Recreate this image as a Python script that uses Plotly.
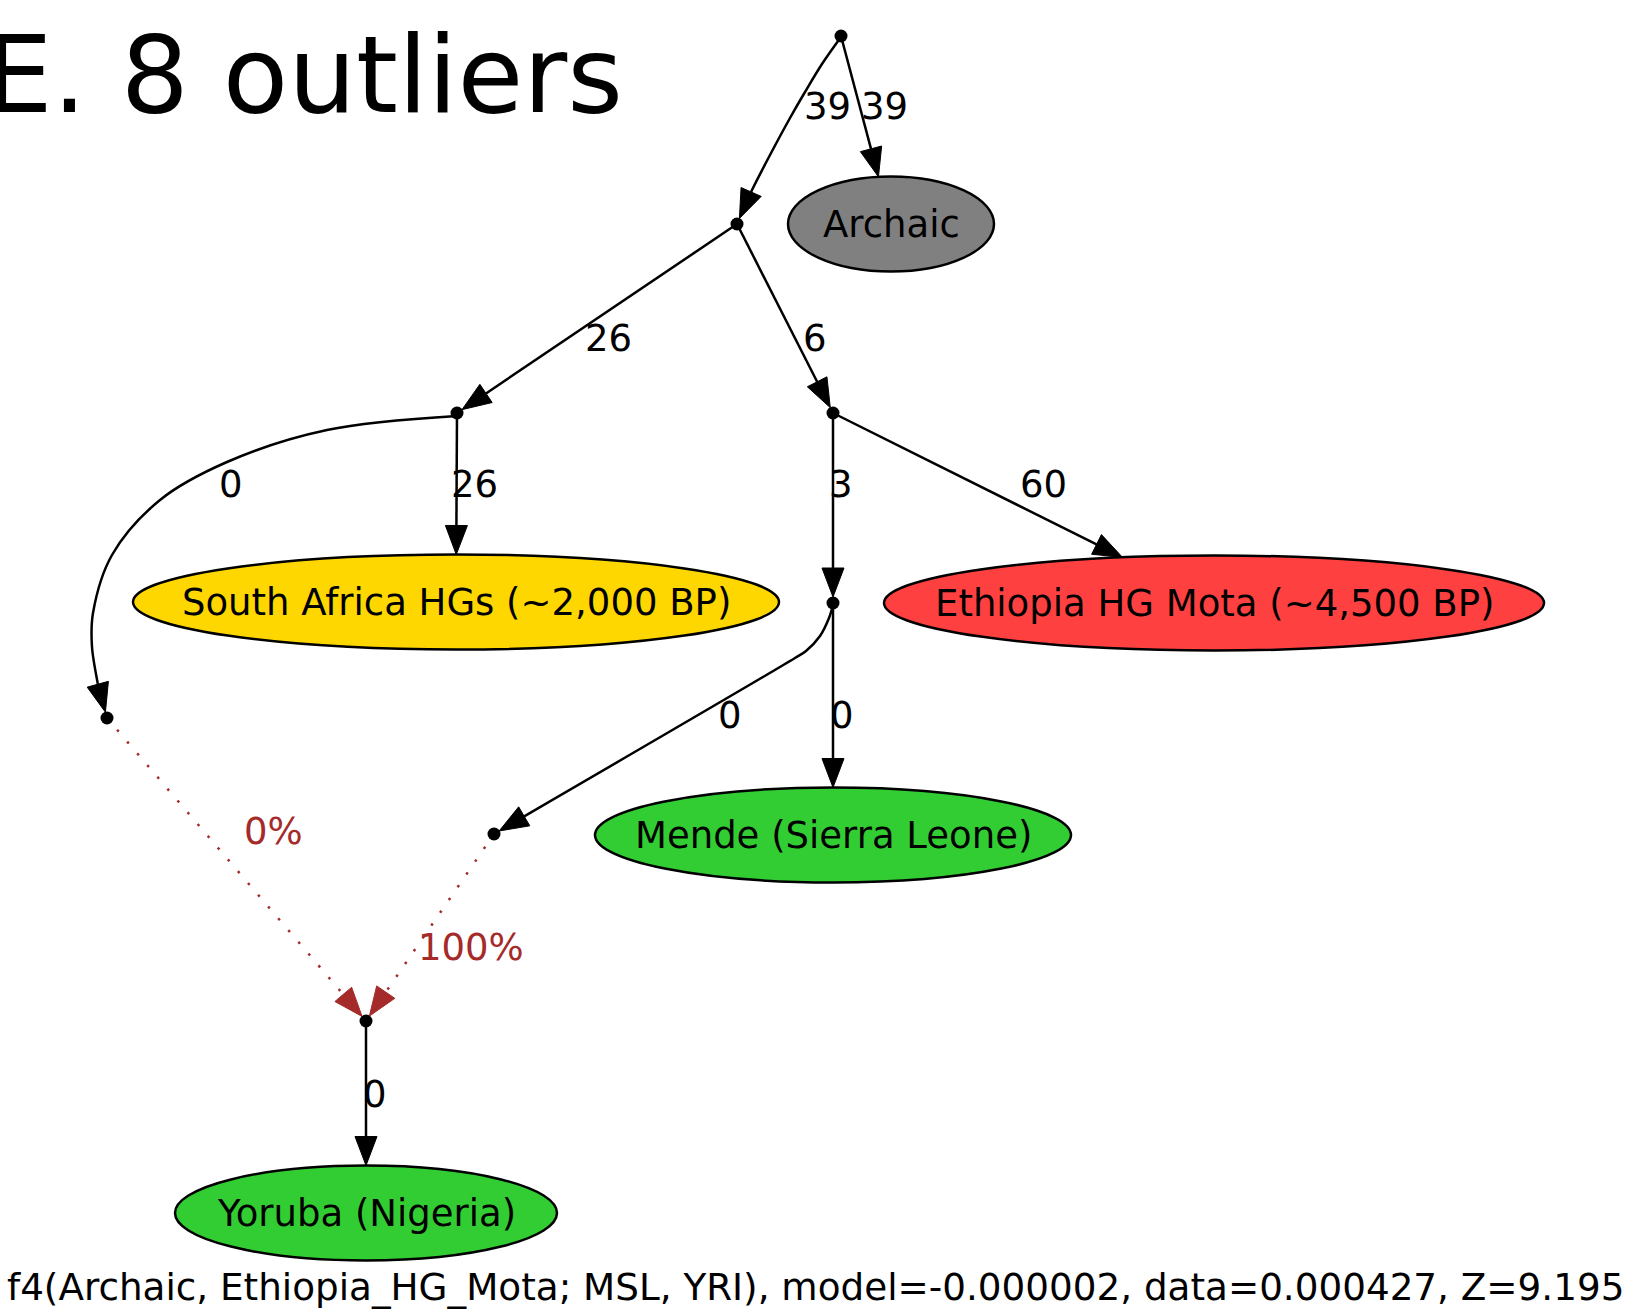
import numpy as np
import plotly.graph_objects as go

# ---------------- data ----------------
title_text = "E. 8 outliers"
footer_text = "f4(Archaic, Ethiopia_HG_Mota; MSL, YRI), model=-0.000002, data=0.000427, Z=9.195"

populations = ["Archaic", "South Africa HGs (~2,000 BP)", "Ethiopia HG Mota (~4,500 BP)",
               "Mende (Sierra Leone)", "Yoruba (Nigeria)"]
pop_colors = ["#808080", "#FFD700", "#FF4040", "#32CD32", "#32CD32"]

inner_nodes = ["root", "n1", "n2", "n3", "n4", "n5", "n6", "n7"]

# drift edges: (source, target, drift label)
drift_src = ["root", "root", "n1", "n1", "n2", "n2", "n3", "n3", "n4", "n4", "n7"]
drift_dst = ["n1", "Archaic", "n2", "n3", "n5", "South Africa HGs (~2,000 BP)", "n4",
             "Ethiopia HG Mota (~4,500 BP)", "n6", "Mende (Sierra Leone)", "Yoruba (Nigeria)"]
drift_lbl = ["39", "39", "26", "6", "0", "26", "3", "60", "0", "0", "0"]

# admixture edges
admix_src = ["n5", "n6"]
admix_dst = ["n7", "n7"]
admix_lbl = ["0%", "100%"]

# ---------------- layout (positions / styles) ----------------
W, H = 1628, 1315
FONT = "DejaVu Sans"
BROWN = "#A52A2A"
LBL_SIZE = 37

node_pos = {
    "root": (841, 36), "n1": (737, 224), "n2": (457, 413), "n3": (833, 413),
    "n4": (833, 603), "n5": (107, 718), "n6": (494, 834), "n7": (366, 1021),
}
pop_pos = {
    "Archaic": (891, 224), "South Africa HGs (~2,000 BP)": (456, 602),
    "Ethiopia HG Mota (~4,500 BP)": (1214, 603), "Mende (Sierra Leone)": (833, 835),
    "Yoruba (Nigeria)": (366, 1213),
}
pop_half = {
    "Archaic": (103, 47.5), "South Africa HGs (~2,000 BP)": (323, 47.5),
    "Ethiopia HG Mota (~4,500 BP)": (330, 47.5), "Mende (Sierra Leone)": (238, 47.5),
    "Yoruba (Nigeria)": (191, 47.5),
}
# intermediate spline waypoints for curved edges
waypoints = {
    ("root", "n1"): [(841, 37), (822, 64), (805, 92), (790, 118), (770, 155), (752, 190)],
    ("n2", "n5"): [(457, 416), (327, 430), (227, 462), (160, 500), (112, 555), (93, 613),
                   (92, 647), (98, 685)],
    ("n4", "n6"): [(833, 605), (829, 618), (820, 636), (806, 651), (795, 658)],
}
lbl_pos_drift = [(827, 106), (884, 106), (608, 338), (815, 338), (231, 484), (474, 484),
                 (841, 484), (1043, 484), (730, 715), (842, 715), (375, 1094)]
lbl_pos_admix = [(273, 831), (471, 947)]

ARROW_LEN, ARROW_HW, DOT_R = 29, 11, 6

fig = go.Figure()


def pos_of(n):
    return node_pos[n] if n in node_pos else pop_pos[n]


def tip_point(src_xy, dst):
    """Where an edge coming from src_xy ends at node dst."""
    sx, sy = src_xy
    if dst in node_pos:
        tx, ty = node_pos[dst]
        d = np.array([tx - sx, ty - sy], float)
        d /= np.linalg.norm(d)
        return np.array([tx, ty]) - DOT_R * d
    cx, cy = pop_pos[dst]
    a, b = pop_half[dst]
    v = np.array([sx - cx, sy - cy], float)
    t = 1.0 / np.sqrt((v[0] / a) ** 2 + (v[1] / b) ** 2)
    return np.array([cx, cy]) + t * v


def draw_edge(src, dst, color, dash=None):
    pts = waypoints.get((src, dst), [pos_of(src)])
    last = pts[-1]
    tip = tip_point(last, dst)
    d = tip - np.array(last, float)
    d /= np.linalg.norm(d)
    base = tip - ARROW_LEN * d
    perp = np.array([-d[1], d[0]])
    xs = [p[0] for p in pts] + [base[0]]
    ys = [p[1] for p in pts] + [base[1]]
    line = dict(color=color, width=2.5)
    if dash:
        line["dash"] = dash
    if len(pts) > 2:
        line["shape"] = "spline"
    fig.add_trace(go.Scatter(x=xs, y=ys, mode="lines", line=line, hoverinfo="skip",
                             showlegend=False))
    p1 = base + ARROW_HW * perp
    p2 = base - ARROW_HW * perp
    fig.add_trace(go.Scatter(x=[tip[0], p1[0], p2[0], tip[0]], y=[tip[1], p1[1], p2[1], tip[1]],
                             mode="lines", fill="toself", fillcolor=color,
                             line=dict(color=color, width=1), hoverinfo="skip", showlegend=False))


shapes = []
for name, col in zip(populations, pop_colors):
    cx, cy = pop_pos[name]
    a, b = pop_half[name]
    shapes.append(dict(type="circle", xref="x", yref="y", x0=cx - a, x1=cx + a, y0=cy - b,
                       y1=cy + b, fillcolor=col, line=dict(color="black", width=2.5),
                       layer="below"))

for s, t in zip(drift_src, drift_dst):
    draw_edge(s, t, "black")
for s, t in zip(admix_src, admix_dst):
    draw_edge(s, t, BROWN, dash="2.5px,13px")

fig.add_trace(go.Scatter(x=[node_pos[n][0] for n in inner_nodes],
                         y=[node_pos[n][1] for n in inner_nodes], mode="markers",
                         marker=dict(color="black", size=13), hoverinfo="skip",
                         showlegend=False))

annotations = []
for name in populations:
    cx, cy = pop_pos[name]
    annotations.append(dict(x=cx, y=cy, text=name, showarrow=False, xref="x", yref="y",
                            font=dict(family=FONT, size=LBL_SIZE, color="black")))
for txt, (x, y) in zip(drift_lbl, lbl_pos_drift):
    annotations.append(dict(x=x, y=y, text=txt, showarrow=False, xref="x", yref="y",
                            font=dict(family=FONT, size=LBL_SIZE, color="black")))
for txt, (x, y) in zip(admix_lbl, lbl_pos_admix):
    annotations.append(dict(x=x, y=y, text=txt, showarrow=False, xref="x", yref="y",
                            font=dict(family=FONT, size=LBL_SIZE, color=BROWN)))
annotations.append(dict(x=625, y=75, text=title_text, showarrow=False, xref="x", yref="y",
                        xanchor="right", font=dict(family=FONT, size=107, color="black")))
annotations.append(dict(x=815, y=1287, text=footer_text, showarrow=False, xref="x", yref="y",
                        font=dict(family=FONT, size=37.3, color="black")))

fig.update_layout(
    width=W, height=H, margin=dict(l=0, r=0, t=0, b=0),
    paper_bgcolor="white", plot_bgcolor="white",
    xaxis=dict(range=[0, W], visible=False, fixedrange=True),
    yaxis=dict(range=[H, 0], visible=False, fixedrange=True),
    shapes=shapes, annotations=annotations, showlegend=False,
)

fig.write_html("out.html", config={"displayModeBar": False},
               post_script="document.body.style.margin='0';")
